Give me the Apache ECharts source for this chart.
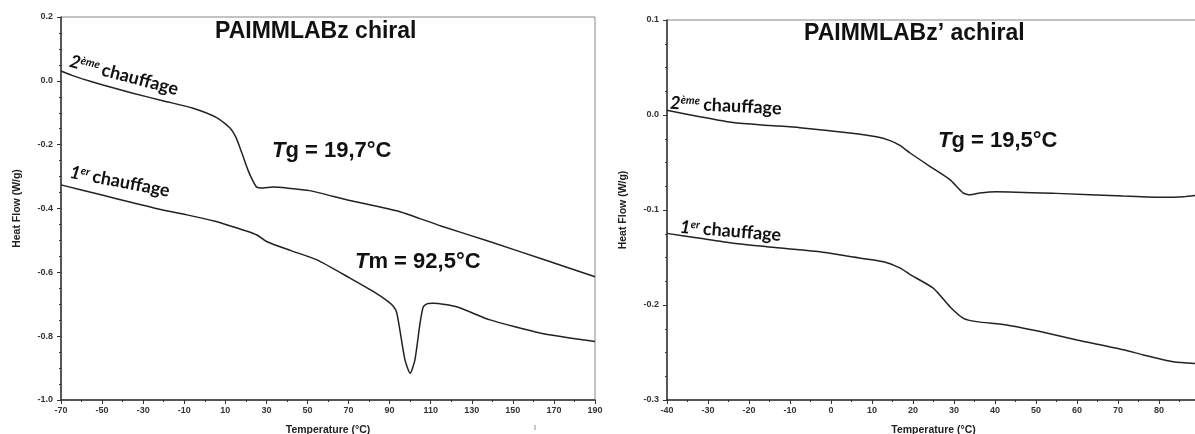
<!DOCTYPE html>
<html><head><meta charset="utf-8">
<script src="https://cdn.jsdelivr.net/npm/echarts@6/dist/echarts.min.js"></script>
<style>html,body{margin:0;padding:0;background:#fff}#c{width:1195px;height:434px}</style>
</head><body><div id="c"></div>
<script>
// Left chart: PAIMMLABz chiral
const leftT2 = [-70, -65, -60, -50, -35, -20, -5.7, 6, 12.3, 15, 17, 19, 21, 23, 25.3, 28.5, 33, 40, 51, 70, 95, 115, 139, 165, 190];
const leftH2 = [0.031, 0.018, 0.007, -0.012, -0.039, -0.063, -0.086, -0.116, -0.148, -0.175, -0.207, -0.243, -0.279, -0.308, -0.333, -0.336, -0.333, -0.336, -0.344, -0.374, -0.41, -0.455, -0.504, -0.560, -0.614];
const leftT1 = [-70, -50, -35, -20.3, -8.7, 5, 13.7, 20, 25.4, 30.3, 42, 54.6, 70.7, 82, 89, 91.6, 93.4, 95, 97.5, 100, 102.3, 104.8, 106.4, 108.5, 111.3, 122.6, 138.9, 163.2, 190];
const leftH1 = [-0.326, -0.358, -0.382, -0.405, -0.420, -0.440, -0.457, -0.470, -0.483, -0.504, -0.532, -0.561, -0.618, -0.660, -0.690, -0.705, -0.725, -0.781, -0.875, -0.916, -0.875, -0.760, -0.708, -0.698, -0.697, -0.708, -0.749, -0.790, -0.817];
// Right chart: PAIMMLABz' achiral
const rightT2 = [-40, -32, -23.9, -15, -7.6, 4.6, 11.1, 14.4, 16.8, 19.3, 24.1, 29, 32.2, 33.9, 36.3, 40.4, 55, 71.3, 81, 86, 90];
const rightH2 = [0.005, -0.0018, -0.008, -0.011, -0.0133, -0.019, -0.023, -0.027, -0.032, -0.040, -0.054, -0.068, -0.082, -0.084, -0.082, -0.0807, -0.0825, -0.0853, -0.0867, -0.086, -0.084];
const rightT1 = [-40, -32, -23.8, -15.7, -2.7, 4.6, 12.8, 16.8, 19.3, 25, 29, 32.3, 35.5, 42.9, 51, 60, 71.3, 76.2, 83.5, 90];
const rightH1 = [-0.1246, -0.1298, -0.135, -0.1386, -0.1439, -0.149, -0.1544, -0.161, -0.168, -0.1825, -0.2018, -0.214, -0.2175, -0.221, -0.228, -0.2368, -0.247, -0.2526, -0.2597, -0.262];

const titles = ['PAIMMLABz chiral', "PAIMMLABz\u2019 achiral"];
const tgLeft = 'g = 19,7°C', tmLeft = 'm = 92,5°C', tgRight = 'g = 19,5°C';
const xName = 'Temperature (°C)', yName = 'Heat Flow (W/g)';

const pairs = (xs, ys) => xs.map((x, i) => [x, ys[i]]);
const fmt1 = v => (Math.abs(v) < 1e-9 ? '0.0' : v.toFixed(1));
const lbl = {fontFamily: 'Liberation Sans, Arial', fontSize: 9, fontWeight: 'bold', color: '#333'};
const nameStyle = {fontFamily: 'Liberation Sans, Arial', fontSize: 10.5, fontWeight: 'bold', color: '#222'};

function xAx(gi, min, max, iv) {
  return {gridIndex: gi, type: 'value', min: min, max: max, interval: iv,
    name: xName, nameLocation: 'middle', nameGap: 25, nameTextStyle: nameStyle,
    axisLine: {onZero: false, lineStyle: {color: '#333', width: 1.5}},
    axisTick: {inside: false, length: 4, lineStyle: {color: '#333'}},
    minorTick: {show: true, splitNumber: 2, length: 2, lineStyle: {color: '#333'}},
    splitLine: {show: false}, axisLabel: Object.assign({margin: 6}, lbl)};
}
function yAx(gi, min, max, iv) {
  return {gridIndex: gi, type: 'value', min: min, max: max, interval: iv,
    name: yName, nameLocation: 'middle', nameGap: 38, nameTextStyle: nameStyle,
    axisLine: {onZero: false, lineStyle: {color: '#333', width: 1.5}},
    axisTick: {inside: false, length: 4, lineStyle: {color: '#333'}},
    minorTick: {show: true, splitNumber: 4, length: 2, lineStyle: {color: '#333'}},
    splitLine: {show: false}, axisLabel: Object.assign({margin: 8, formatter: fmt1}, lbl)};
}
const lineSeries = (xi, data) => ({type: 'line', xAxisIndex: xi, yAxisIndex: xi, data: data,
  showSymbol: false, smooth: 0.2, lineStyle: {color: '#222', width: 1.5}, silent: true});

const chauff = (x, y, rot, sup, n) => ({type: 'text', x: x, y: y, rotation: rot,
  style: {text: '{n|' + n + '}{s|' + sup + '} {c|chauffage}', align: 'left', verticalAlign: 'middle', fill: '#111',
    rich: {n: {fontFamily: 'Lato', fontSize: 18, fontStyle: 'italic', fontWeight: 'bold', fill: '#111'},
      s: {fontFamily: 'Lato', fontSize: 11, fontStyle: 'italic', fontWeight: 'bold', verticalAlign: 'top', fill: '#111'},
      c: {fontFamily: 'Lato', fontSize: 18, fontWeight: 'bold', fill: '#111'}}}});
const big = (x, y, letter, rest) => ({type: 'text', x: x, y: y,
  style: {text: '{i|' + letter + '}{r|' + rest + '}', align: 'left', verticalAlign: 'middle',
    rich: {i: {fontFamily: 'Liberation Sans, Arial', fontSize: 22, fontStyle: 'italic', fontWeight: 'bold', fill: '#111'},
      r: {fontFamily: 'Liberation Sans, Arial', fontSize: 22, fontWeight: 'bold', fill: '#111'}}}});
const ttl = (x, y, t) => ({type: 'text', x: x, y: y,
  style: {text: t, align: 'left', verticalAlign: 'middle', fontFamily: 'Liberation Sans, Arial', fontSize: 23, fontWeight: 'bold', fill: '#111'}});

const chart = echarts.init(document.getElementById('c'), null, {renderer: 'canvas'});
chart.setOption({
  animation: false,
  backgroundColor: '#fff',
  grid: [
    {left: 61, top: 17, width: 534, height: 383, show: true, borderColor: '#888', borderWidth: 1, outerBoundsMode: 'none', containLabel: false},
    {left: 667, top: 20, width: 533, height: 380, show: true, borderColor: '#888', borderWidth: 1, outerBoundsMode: 'none', containLabel: false}
  ],
  xAxis: [xAx(0, -70, 190, 20), xAx(1, -40, 90, 10)],
  yAxis: [yAx(0, -1.0, 0.2, 0.2), yAx(1, -0.3, 0.1, 0.1)],
  series: [
    lineSeries(0, pairs(leftT2, leftH2)),
    lineSeries(0, pairs(leftT1, leftH1)),
    lineSeries(1, pairs(rightT2, rightH2)),
    lineSeries(1, pairs(rightT1, rightH1))
  ],
  graphic: [
    ttl(215, 32, titles[0]),
    ttl(804, 34, titles[1]),
    big(272, 151, 'T', tgLeft),
    big(355, 262, 'T', tmLeft),
    big(938, 141, 'T', tgRight),
    chauff(70, 61, -0.26, 'ème', '2'),
    chauff(70, 172, -0.19, 'er', '1'),
    chauff(670, 103, -0.05, 'ème', '2'),
    chauff(680, 227, -0.08, 'er', '1'),
    {type: 'text', x: 535, y: 428, style: {text: 'ı', fontSize: 9, fill: '#777', align: 'center', verticalAlign: 'middle'}}
  ]
});
</script></body></html>
